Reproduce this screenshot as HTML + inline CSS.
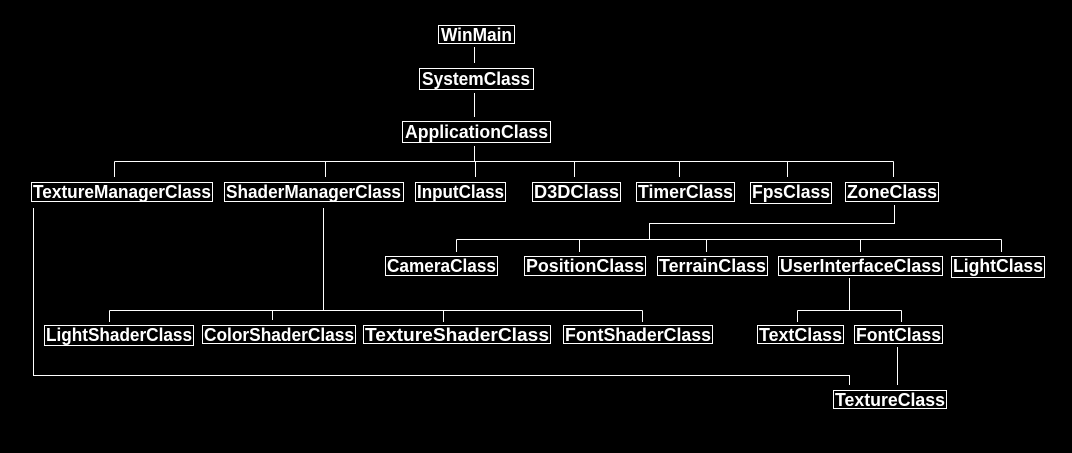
<!DOCTYPE html>
<html><head><style>html,body{margin:0;padding:0;background:#000;}svg{display:block}</style></head>
<body>
<svg width="1072" height="453" xmlns="http://www.w3.org/2000/svg">
<rect width="1072" height="453" fill="#000"/>
<g stroke="#fff" stroke-width="1" fill="none" shape-rendering="crispEdges">
<path d="M474.5 47V63M474.5 93V117M474.5 146V161.5"/>
<path d="M114.5 161.5H893.5M114.5 161.5V177M325.5 161.5V177M475.5 161.5V177M574.5 161.5V177M679.5 161.5V177M787.5 161.5V177M893.5 161.5V177"/>
<path d="M894.5 205V223.5H649.5V239.5"/>
<path d="M456.5 239.5H1001.5M456.5 239.5V252M579.5 239.5V252M706.5 239.5V252M860.5 239.5V252M1001.5 239.5V252"/>
<path d="M323.5 208V310.5M109.5 310.5H642.5M109.5 310.5V322M272.5 310.5V320M443.5 310.5V322M642.5 310.5V322"/>
<path d="M849.5 278V310.5M797.5 310.5H901.5M797.5 310.5V322M901.5 310.5V322"/>
<path d="M33.5 208V375.5H849.5V385M897.5 347V385"/>
</g>
<g stroke="#fff" fill="none" shape-rendering="crispEdges">
<rect x="438.5" y="25.5" width="76" height="18"/>
<rect x="419.5" y="68.5" width="114" height="21"/>
<rect x="402.5" y="121.5" width="148" height="21"/>
<rect x="31.5" y="182.5" width="181" height="19"/>
<rect x="224.5" y="182.5" width="179" height="19"/>
<rect x="415.5" y="182.5" width="90" height="19"/>
<rect x="532.5" y="182.5" width="88" height="19"/>
<rect x="636.5" y="182.5" width="98" height="19"/>
<rect x="750.5" y="182.5" width="81" height="21"/>
<rect x="845.5" y="182.5" width="93" height="19"/>
<rect x="385.5" y="256.5" width="112" height="19"/>
<rect x="524.5" y="256.5" width="121" height="19"/>
<rect x="657.5" y="256.5" width="110" height="19"/>
<rect x="778.5" y="256.5" width="164" height="19"/>
<rect x="951.5" y="256.5" width="93" height="21"/>
<rect x="44.5" y="325.5" width="149" height="20"/>
<rect x="202.5" y="325.5" width="153" height="18"/>
<rect x="363.5" y="325.5" width="187" height="18"/>
<rect x="563.5" y="325.5" width="149" height="18"/>
<rect x="757.5" y="325.5" width="86" height="18"/>
<rect x="854.5" y="325.5" width="88" height="18"/>
<rect x="833.5" y="390.5" width="113" height="18"/>
</g>
<g fill="#fff" font-family="Liberation Sans, sans-serif" font-weight="bold" font-size="18">
<text x="441" y="41" textLength="71" lengthAdjust="spacingAndGlyphs">WinMain</text>
<text x="422" y="85" textLength="108" lengthAdjust="spacingAndGlyphs">SystemClass</text>
<text x="405" y="138" textLength="143" lengthAdjust="spacingAndGlyphs">ApplicationClass</text>
<text x="33" y="198" textLength="178" lengthAdjust="spacingAndGlyphs">TextureManagerClass</text>
<text x="226" y="198" textLength="175" lengthAdjust="spacingAndGlyphs">ShaderManagerClass</text>
<text x="417" y="198" textLength="87" lengthAdjust="spacingAndGlyphs">InputClass</text>
<text x="534" y="198" textLength="85" lengthAdjust="spacingAndGlyphs">D3DClass</text>
<text x="638" y="198" textLength="95" lengthAdjust="spacingAndGlyphs">TimerClass</text>
<text x="752" y="198" textLength="78" lengthAdjust="spacingAndGlyphs">FpsClass</text>
<text x="847" y="198" textLength="90" lengthAdjust="spacingAndGlyphs">ZoneClass</text>
<text x="387" y="272" textLength="109" lengthAdjust="spacingAndGlyphs">CameraClass</text>
<text x="526" y="272" textLength="118" lengthAdjust="spacingAndGlyphs">PositionClass</text>
<text x="659" y="272" textLength="107" lengthAdjust="spacingAndGlyphs">TerrainClass</text>
<text x="780" y="272" textLength="161" lengthAdjust="spacingAndGlyphs">UserInterfaceClass</text>
<text x="953" y="272" textLength="90" lengthAdjust="spacingAndGlyphs">LightClass</text>
<text x="46" y="341" textLength="146" lengthAdjust="spacingAndGlyphs">LightShaderClass</text>
<text x="204" y="341" textLength="150" lengthAdjust="spacingAndGlyphs">ColorShaderClass</text>
<text x="365" y="341" textLength="184" lengthAdjust="spacingAndGlyphs">TextureShaderClass</text>
<text x="565" y="341" textLength="146" lengthAdjust="spacingAndGlyphs">FontShaderClass</text>
<text x="759" y="341" textLength="83" lengthAdjust="spacingAndGlyphs">TextClass</text>
<text x="856" y="341" textLength="85" lengthAdjust="spacingAndGlyphs">FontClass</text>
<text x="835" y="406" textLength="110" lengthAdjust="spacingAndGlyphs">TextureClass</text>
</g>
</svg>
</body></html>
